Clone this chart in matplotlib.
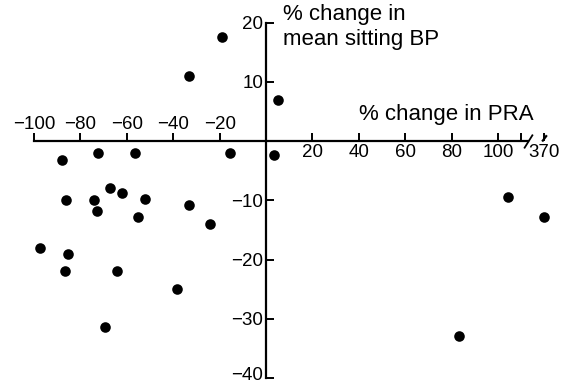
import numpy as np
import matplotlib
matplotlib.use("Agg")
import matplotlib.pyplot as plt
import matplotlib.transforms as mtransforms

# % change in PRA (x) vs % change in mean sitting BP (y)
pra_change = [-87.9, -72.5, -56.3, -15.4, 3.4, 5.3, -67.2, -62.0, -86.2, -74.3,
              -52.2, -33.2, -72.8, -55.2, -24.3, -97.4, -85.2, -86.6, -64.1,
              -38.2, -69.4, -19.0, -33.1, 104.2, 370, 83.2]
bp_change = [-3.2, -2.0, -2.1, -2.0, -2.3, 7.0, -8.0, -8.8, -9.9, -10.0,
             -9.7, -10.8, -11.8, -12.8, -14.0, -18.0, -19.0, -21.9, -21.9,
             -24.9, -31.4, 17.5, 11.0, -9.5, -12.8, -32.9]

x_labels = [-100, -80, -60, -40, -20, 20, 40, 60, 80, 100, 370]
x_ticks = [-100, -80, -60, -40, -20, 20, 40, 60, 80, 100, 110, 370]
y_ticks = [20, 10, -10, -20, -30, -40]

# broken x axis: everything past BREAK is squeezed
BREAK = 113
SQUEEZE = 0.026


def fwd(x):
    x = np.asarray(x, dtype=float)
    return np.where(x <= BREAK, x, BREAK + (x - BREAK) * SQUEEZE)


def inv(x):
    x = np.asarray(x, dtype=float)
    return np.where(x <= BREAK, x, BREAK + (x - BREAK) / SQUEEZE)


plt.rcParams["font.family"] = ["Liberation Sans", "DejaVu Sans"]

fig = plt.figure(figsize=(5.65, 3.84), dpi=100)
ax = fig.add_axes([0, 0, 1, 1])
ax.set_xscale("function", functions=(fwd, inv))
ax.set_xlim(-114.7, float(inv(128.9)))
ax.set_ylim(-41.0, 23.8)

ax.scatter(pra_change, bp_change, s=58, color="black", zorder=3, linewidths=0)

for side in ["top", "right"]:
    ax.spines[side].set_visible(False)
ax.spines["left"].set_position(("data", 0))
ax.spines["bottom"].set_position(("data", 0))
ax.spines["left"].set_bounds(-40, 20)
ax.spines["bottom"].set_bounds(-100, BREAK)
for side in ["left", "bottom"]:
    ax.spines[side].set_linewidth(1.6)

ax.set_xticks(x_ticks)
ax.set_xticklabels([])
ax.set_yticks(y_ticks)
ax.set_yticklabels([str(v).replace("-", "\u2212") for v in y_ticks])
ax.tick_params(axis="both", direction="in", length=6, width=1.4, labelsize=13.5)
ax.tick_params(axis="y", pad=2)
ax.xaxis.set_minor_locator(matplotlib.ticker.NullLocator())

# bottom label would fall off the edge, lift it a little
last = ax.get_yticklabels()[-1]
last.set_transform(last.get_transform() +
                   mtransforms.ScaledTranslation(0, 3 / 72, fig.dpi_scale_trans))

# negative labels sit above the axis, positive below
for v in x_labels:
    txt = str(v).replace("-", "\u2212")
    if v < 0:
        ax.annotate(txt, (v, 0), xytext=(0, 6), textcoords="offset points",
                    ha="center", va="bottom", fontsize=13.5)
    else:
        ax.annotate(txt, (v, 0), xytext=(0, -2), textcoords="offset points",
                    ha="center", va="top", fontsize=13.5)

# break marks
ax.plot([BREAK], [0], marker=[(-1, -1.6), (1, 1.6)], markersize=10,
        color="black", mew=1.3, clip_on=False)
ax.plot([370], [0], marker=[(-0.6, 0), (0.6, 1.6)], markersize=9,
        color="black", mew=1.6, clip_on=False)

ax.text(40, 3.6, "% change in PRA", fontsize=16, va="baseline", ha="left")
ax.text(7.3, 23.2, "% change in\nmean sitting BP", fontsize=16, va="top",
        ha="left", linespacing=1.25)

fig.savefig("out.png", dpi=100)
